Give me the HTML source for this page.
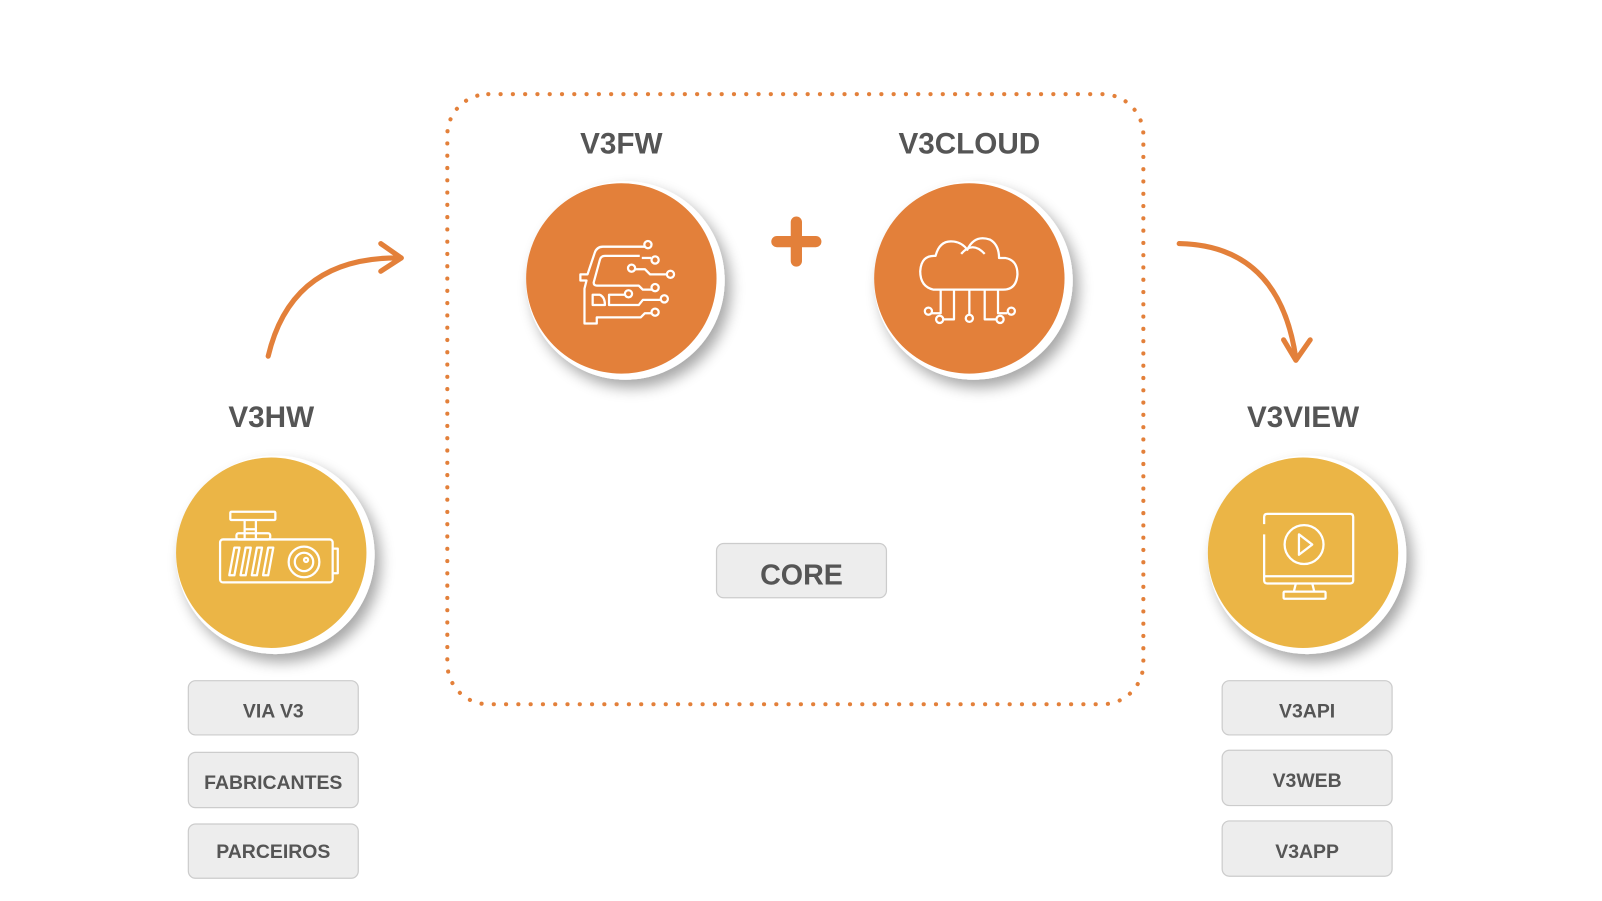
<!DOCTYPE html>
<html><head><meta charset="utf-8"><style>
html,body{margin:0;padding:0;background:#fff;overflow:hidden;}
svg{display:block;}
text{font-family:"Liberation Sans",sans-serif;font-weight:bold;fill:#555;text-anchor:middle;}
</style></head><body>
<svg width="1602" height="901" viewBox="0 0 1602 901" xmlns="http://www.w3.org/2000/svg">
<defs>
<filter id="sh" x="-30%" y="-30%" width="160%" height="160%">
<feGaussianBlur in="SourceAlpha" stdDeviation="7"/><feOffset dx="6" dy="8"/>
<feComponentTransfer><feFuncA type="linear" slope="0.35"/></feComponentTransfer>
<feMerge><feMergeNode/><feMergeNode in="SourceGraphic"/></feMerge></filter>
</defs>
<g transform="scale(1.0236)">
<rect x="437" y="92" width="680" height="596" rx="40" fill="none" stroke="#E3803A" stroke-width="4" stroke-linecap="round" stroke-dasharray="0.1 11.9"/>

<text x="607" y="150" font-size="29">V3FW</text>
<text x="947" y="150" font-size="29">V3CLOUD</text>
<text x="265" y="417" font-size="29">V3HW</text>
<text x="1273" y="417" font-size="29">V3VIEW</text>

<g filter="url(#sh)">
<circle cx="611" cy="274" r="97" fill="#fff"/>
<circle cx="951" cy="274" r="97" fill="#fff"/>
<circle cx="269" cy="542" r="97" fill="#fff"/>
<circle cx="1277" cy="542" r="97" fill="#fff"/>
</g>
<circle cx="607" cy="272" r="93" fill="#E3803A"/>
<circle cx="947" cy="272" r="93" fill="#E3803A"/>
<circle cx="265" cy="540" r="93" fill="#EBB546"/>
<circle cx="1273" cy="540" r="93" fill="#EBB546"/>

<path d="M778 217 V255 M759 236 H797" stroke="#E3803A" stroke-width="11" stroke-linecap="round"/>

<g fill="none" stroke="#fff" stroke-width="2.2" stroke-linejoin="round">
<path d="M630 241 H589 Q583 241 581 247 L574 268 H567 V274 H573 L571 282 V316 H583 V310 H626 L630 306 H637"/>
<path d="M625 250 H591 Q587 250 586 254 L580 276 Q580 279 583 279 H624 L628 283 H637"/>
<path d="M579 288 H586 Q591 290 591 298 H579 Z"/>
<path d="M611 288 H595 V298 H624 L628 293 H645"/>
<path d="M620 263 H630 L635 268 H652"/>
<path d="M627 252 H636"/>
<circle cx="633" cy="239" r="3.5"/><circle cx="640" cy="254" r="3.5"/><circle cx="617" cy="262" r="3.5"/>
<circle cx="655" cy="268" r="3.5"/><circle cx="640" cy="281" r="3.5"/><circle cx="614" cy="287" r="3.5"/>
<circle cx="649" cy="292" r="3.5"/><circle cx="640" cy="305" r="3.5"/>
</g>

<g fill="none" stroke="#fff" stroke-width="2.2" stroke-linejoin="round">
<path d="M912 283 Q899 280 899 265 Q900 249 914 250 Q918 234 932 236 Q940 237 945 244 Q952 229 967 234 Q976 239 976 252 H982 Q994 254 994 268 Q993 283 980 283 Z"/>
<path d="M939 248 Q950 235 962 248"/>
<path d="M919 283 V306 H910 M932 283 V312 H921 M947 283 V307 M962 283 V312 H973 M975 283 V306 H984"/>
<circle cx="907" cy="304" r="3.5"/><circle cx="918" cy="312" r="3.5"/><circle cx="947" cy="311" r="3.5"/>
<circle cx="977" cy="312" r="3.5"/><circle cx="988" cy="304" r="3.5"/>
</g>

<g fill="none" stroke="#fff" stroke-width="2.2" stroke-linejoin="round">
<rect x="225" y="500" width="44" height="8" rx="1"/>
<path d="M239 508 V517 H250 V508 M239 517 V527 M250 517 V527"/>
<rect x="231" y="521" width="33" height="6" rx="2"/>
<rect x="215" y="527" width="110" height="42" rx="3"/>
<path d="M325 536 H330 V560 H325"/>
<path d="M224 562 L229 535 H234 L229 562 Z M235 562 L240 535 H245 L240 562 Z M246 562 L251 535 H256 L251 562 Z M257 562 L262 535 H267 L262 562 Z"/>
<circle cx="297" cy="549" r="15"/><circle cx="297" cy="549" r="9"/><circle cx="299" cy="547" r="2"/>
</g>

<g fill="none" stroke="#fff" stroke-width="2.2" stroke-linejoin="round">
<path d="M1235 512 V505 Q1235 502 1238 502 H1319 Q1322 502 1322 505 V567 Q1322 570 1319 570 H1238 Q1235 570 1235 567 V522"/>
<path d="M1235 563 H1322"/>
<circle cx="1274" cy="532" r="19"/>
<path d="M1269 522 L1282 532 L1269 542 Z"/>
<path d="M1266 570 L1264 578 M1282 570 L1284 578"/>
<rect x="1254" y="578" width="41" height="7" rx="1"/>
</g>

<g fill="none" stroke="#E3803A" stroke-width="5" stroke-linecap="round" stroke-linejoin="round">
<path d="M262 348 Q285 250 392 252"/>
<path d="M372 238 L392 252 L372 265"/>
<path d="M1152 238 Q1250 240 1266 350"/>
<path d="M1254 332 L1266 352 L1280 332"/>
</g>

<g fill="#EDEDED" stroke="#ccc" stroke-width="1.2">
<rect x="184" y="665" width="166" height="53" rx="7"/>
<rect x="184" y="735" width="166" height="54" rx="7"/>
<rect x="184" y="805" width="166" height="53" rx="7"/>
<rect x="1194" y="665" width="166" height="53" rx="7"/>
<rect x="1194" y="733" width="166" height="54" rx="7"/>
<rect x="1194" y="802" width="166" height="54" rx="7"/>
<rect x="700" y="531" width="166" height="53" rx="7"/>
</g>
<text x="267" y="701" font-size="19">VIA V3</text>
<text x="267" y="771" font-size="19">FABRICANTES</text>
<text x="267" y="838" font-size="19">PARCEIROS</text>
<text x="1277" y="701" font-size="19">V3API</text>
<text x="1277" y="769" font-size="19">V3WEB</text>
<text x="1277" y="838" font-size="19">V3APP</text>
<text x="783" y="571" font-size="28">CORE</text>
</g>
</svg>
</body></html>
